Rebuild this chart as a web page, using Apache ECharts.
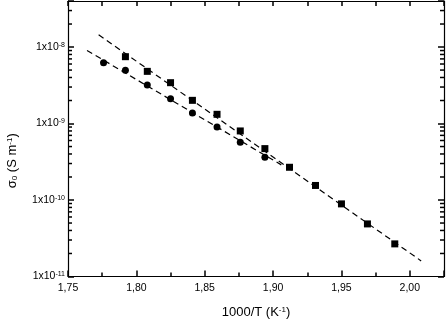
<!DOCTYPE html>
<html>
<head>
<meta charset="utf-8">
<script src="https://cdn.jsdelivr.net/npm/echarts@6/dist/echarts.min.js"></script>
<style>
html,body{margin:0;padding:0;background:#fff}
#main{width:447px;height:322px}
</style>
</head>
<body>
<div id="main"></div>
<script>
//数据  正方形点
const invT_sq = [1.792, 1.808, 1.825, 1.841, 1.859, 1.876, 1.894, 1.912, 1.931, 1.950, 1.969, 1.989];
const sigma_sq = [7.48e-9, 4.81e-9, 3.42e-9, 2.01e-9, 1.32e-9, 8.0e-10, 4.70e-10, 2.68e-10, 1.55e-10, 8.9e-11, 4.87e-11, 2.67e-11];
//圆点
const invT_ci = [1.776, 1.792, 1.808, 1.825, 1.841, 1.859, 1.876, 1.894];
const sigma_ci = [6.24e-9, 4.96e-9, 3.19e-9, 2.11e-9, 1.37e-9, 9.02e-10, 5.69e-10, 3.62e-10];
//拟合虚线 两端
const fit1_x = [1.7724, 2.0083];
const fit1_y = [1.45e-8, 1.60e-11];
const fit2_x = [1.7639, 1.906];
const fit2_y = [9.03e-9, 2.88e-10];
//y轴次刻度
const yMinor = [2e-11, 3e-11, 4e-11, 5e-11, 6e-11, 7e-11, 8e-11, 9e-11,
                2e-10, 3e-10, 4e-10, 5e-10, 6e-10, 7e-10, 8e-10, 9e-10,
                2e-9, 3e-9, 4e-9, 5e-9, 6e-9, 7e-9, 8e-9, 9e-9,
                2e-8, 3e-8];

const font = 'Liberation Sans, Arial, sans-serif';
const pairs = (xs, ys) => xs.map((x, i) => [x, ys[i]]);

function yLabel(v) {
    let e = Math.log10(v);
    let r = Math.round(e);
    if (Math.abs(e - r) > 1e-6) return '';
    return '{b|1x10}{s|' + r + '}';
}

//y轴次刻度 用custom画在左右两边
function minorTick(params, api) {
    let p = api.coord([api.value(0), api.value(1)]);
    let cs = params.coordSys;
    let st = {stroke: '#000', lineWidth: 1.5};
    return {
        type: 'group',
        children: [
            {type: 'line', shape: {x1: cs.x, y1: p[1], x2: cs.x + 4, y2: p[1]}, style: st},
            {type: 'line', shape: {x1: cs.x + cs.width, y1: p[1], x2: cs.x + cs.width - 4, y2: p[1]}, style: st}
        ]
    };
}

const tickLine = {color: '#000', width: 1.5};
const yBase = {
    type: 'log', min: 1e-11, max: 4e-8,
    splitLine: {show: false},
    axisLine: {show: true, lineStyle: {color: '#000', width: 1.2}},
    axisTick: {show: true, inside: true, length: 6, lineStyle: tickLine}
};

const option = {
    animation: false,
    grid: {left: 68, right: 3, top: 1, bottom: 45.5, outerBoundsMode: 'none'},
    xAxis: [
        {
            type: 'value', min: 1.75, max: 2.025, interval: 0.05, position: 'bottom',
            name: '1000/T (K{sup|-1})', nameLocation: 'middle', nameGap: 29,
            nameTextStyle: {fontFamily: font, fontSize: 13, color: '#000',
                rich: {sup: {fontFamily: font, fontSize: 8, color: '#000', verticalAlign: 'top'}}},
            axisLine: {show: true, lineStyle: {color: '#000', width: 1.2}},
            axisTick: {show: true, inside: true, length: 6, lineStyle: tickLine},
            minorTick: {show: true, splitNumber: 2, length: 4, lineStyle: tickLine},
            splitLine: {show: false},
            axisLabel: {
                fontFamily: font, fontSize: 10.5, color: '#000', margin: 6, showMaxLabel: false,
                formatter: function (v) {
                    if (Math.abs(v * 20 - Math.round(v * 20)) > 1e-6) return '';
                    return v.toFixed(2).replace('.', ',');
                }
            }
        },
        {
            type: 'value', min: 1.75, max: 2.025, interval: 0.025, position: 'top',
            axisLine: {show: true, lineStyle: {color: '#000', width: 1.2}},
            axisTick: {show: true, inside: true, length: 5, lineStyle: tickLine},
            axisLabel: {show: false},
            splitLine: {show: false}
        }
    ],
    yAxis: [
        Object.assign({}, yBase, {
            position: 'left',
            name: 'σ{sub|0} (S m{sup|-1})', nameLocation: 'middle', nameGap: 49,
            nameTextStyle: {fontFamily: font, fontSize: 13, color: '#000', padding: [0, 44, 0, 0],
                rich: {
                    sub: {fontFamily: font, fontSize: 8, color: '#000', verticalAlign: 'bottom'},
                    sup: {fontFamily: font, fontSize: 8, color: '#000', verticalAlign: 'top'}
                }},
            axisLabel: {
                margin: 3, formatter: yLabel,
                rich: {
                    b: {fontFamily: font, fontSize: 10.5, color: '#000'},
                    s: {fontFamily: font, fontSize: 7, color: '#000', verticalAlign: 'top'}
                }
            }
        }),
        Object.assign({}, yBase, {
            position: 'right',
            axisLabel: {show: false}
        })
    ],
    series: [
        {
            type: 'custom', data: yMinor.map(v => [1.75, v]), renderItem: minorTick, silent: true
        },
        {
            type: 'line', data: pairs(fit1_x, fit1_y), symbol: 'none',
            lineStyle: {color: '#000', width: 1.2, type: [6, 4]}
        },
        {
            type: 'line', data: pairs(fit2_x, fit2_y), symbol: 'none',
            lineStyle: {color: '#000', width: 1.2, type: [6, 4]}
        },
        {
            type: 'scatter', data: pairs(invT_sq, sigma_sq), symbol: 'rect', symbolSize: 7,
            itemStyle: {color: '#000', opacity: 1}
        },
        {
            type: 'scatter', data: pairs(invT_ci, sigma_ci), symbol: 'circle', symbolSize: 7,
            itemStyle: {color: '#000', opacity: 1}
        }
    ]
};

let chart = echarts.init(document.getElementById('main'));
chart.setOption(option);
</script>
</body>
</html>
